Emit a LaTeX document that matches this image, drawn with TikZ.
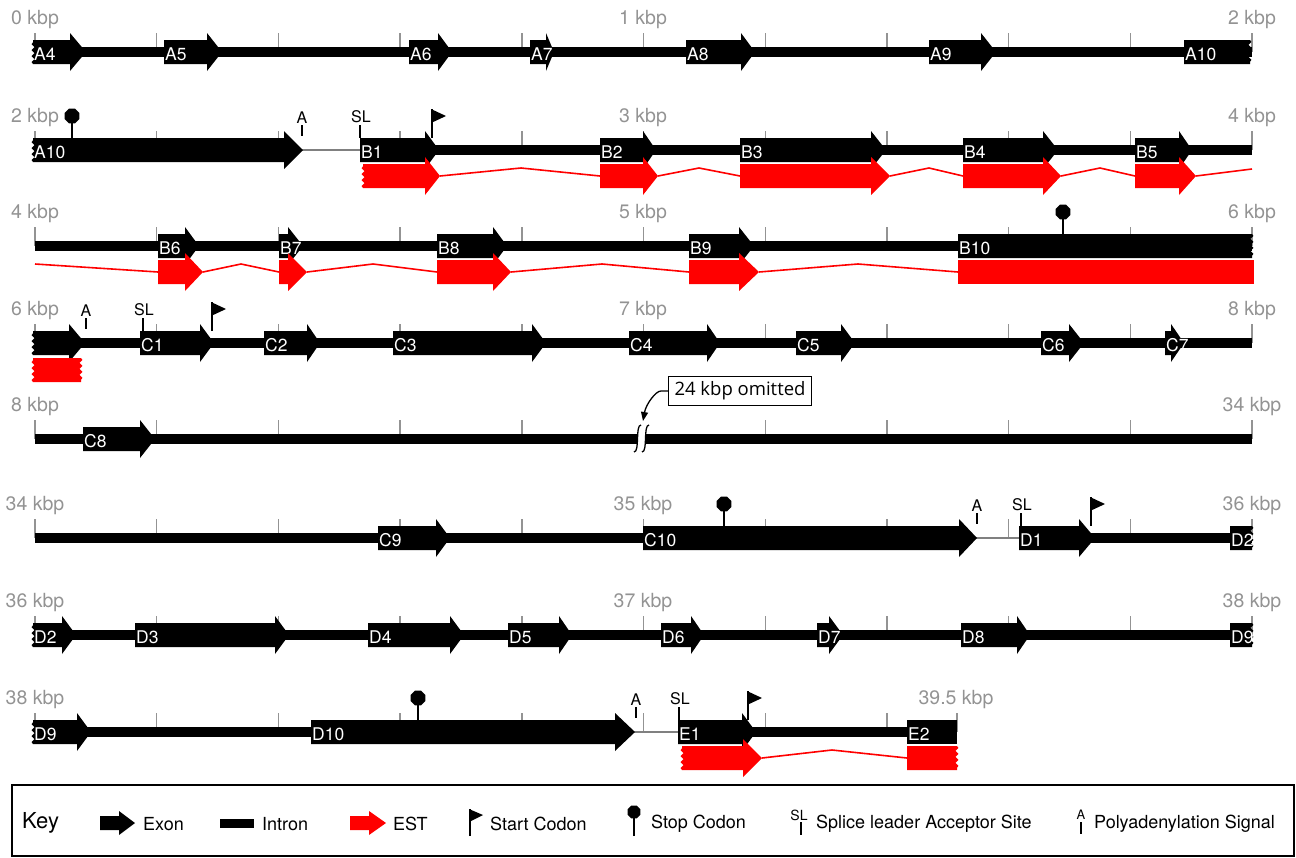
\documentclass[tikz,border=0pt]{standalone}
\usepackage{fontspec}
\setmainfont{TeX Gyre Heros}
\newfontfamily\notefont{Open Sans}
\usetikzlibrary{arrows.meta, positioning, shapes.geometric, decorations.pathmorphing}

\begin{document}
\begin{tikzpicture}[
  x=1pt, y=-1pt,
  tickmark/.style={draw=gray!85, line width=1.4pt},
  kbp/.style={text=gray!85, inner sep=0pt, font=\fontsize{19.5}{21}\selectfont},
  intron/.style={fill=black},
  utr/.style={draw=gray, line width=1.5pt},
  exon/.style={fill=black},
  est/.style={fill=red},
  estline/.style={draw=red, line width=1.6pt},
  exlabel/.style={text=white, anchor=west, inner sep=1pt,
                  font=\fontsize{17.5}{19}\selectfont},
  torn/.style={decoration={snake, segment length=6pt, amplitude=1.4pt}},
  stemline/.style={draw=black, line width=2.6pt},
  sitestem/.style={draw=black, line width=2pt},
  stopsign/.style={regular polygon, regular polygon sides=8, fill=black,
                   minimum size=16pt, inner sep=0pt},
  sitetext/.style={inner sep=0pt, font=\fontsize{16}{17}\selectfont},
  keytext/.style={anchor=west, inner sep=0pt, font=\fontsize{18}{20}\selectfont},
  omitbox/.style={draw, line width=1.3pt, inner xsep=6pt, inner ysep=5pt,
                  font=\notefont\fontsize{18.5}{20}\selectfont}
]
  \useasboundingbox (0,0) rectangle (1296,857);

  % scale ticks
  \foreach \ry in {52,150,246,343,538,635}
    \foreach \k in {0,...,10}
      \draw[tickmark] ({35+121.7*\k},{\ry-19}) -- ({35+121.7*\k},\ry);
  \foreach \k in {0,1,2,3,4,6,7,8,9,10}
    \draw[tickmark] ({35+121.7*\k},420) -- ({35+121.7*\k},439);
  \foreach \k in {0,...,7}
    \draw[tickmark] ({35+121.7*\k},713) -- ({35+121.7*\k},732);
  \draw[tickmark] (957,713) -- (957,732);

  % kbp labels
  \foreach \xa/\ry/\tx [count=\i] in {35/52/0, 643/52/1, 1252/52/2,
      35/150/2, 643/150/3, 1252/150/4, 35/246/4, 643/246/5, 1252/246/6,
      35/343/6, 643/343/7, 1252/343/8, 35/439/8, 1252/439/34,
      35/538/34, 643/538/35, 1252/538/36, 35/635/36, 643/635/37, 1252/635/38,
      35/732/38, 956/732/39.5}
    \node[kbp] (kbp\i) at (\xa,{\ry-32}) {\tx\ kbp};

  % introns
  \foreach \ry/\xa/\xb in {52/35/1252, 150/360/1252, 246/35/1252, 343/35/1252,
      439/35/1252, 538/35/960, 538/1019/1252, 635/35/1252, 732/35/620, 732/678/957}
    \fill[intron] (\xa,{\ry-5}) rectangle (\xb,{\ry+5});
  \foreach \ry/\xa/\xb in {150/300/360, 538/975/1019, 732/633/678}
    \draw[utr] (\xa,\ry) -- (\xb,\ry);

  % gap in row 5
  \fill[white] (634,452) .. controls (640,452) and (635,425) .. (641,425)
    -- (649,425) .. controls (643,425) and (648,452) .. (642,452) -- cycle;
  \draw[line width=1.3pt] (634,452) .. controls (640,452) and (635,425) .. (641,425);
  \draw[line width=1.3pt] (642,452) .. controls (648,452) and (643,425) .. (649,425);

  % exons
  \foreach \ry/\xa/\xb/\xc/\nm in {
      52/164/207/222/A5, 52/409/438/452/A6, 52/530/546/554/A7, 52/686/741/755/A8,
      52/929/981/996/A9,
      150/360/425/439/B1, 150/600/643/656/B2, 150/740/871/886/B3,
      150/963/1043/1058/B4, 150/1135/1179/1192/B5,
      246/158/185/199/B6, 246/279/288/303/B7, 246/437/493/507/B8, 246/689/739/754/B9,
      343/140/200/214/C1, 343/264/307/320/C2, 343/393/532/546/C3, 343/629/707/720/C4,
      343/796/841/855/C5, 343/1041/1069/1084/C6, 343/1165/1171/1184/C7,
      439/83/140/155/C8,
      538/378/436/450/C9, 538/643/959/977/C10, 538/1019/1079/1095/D1,
      635/135/275/289/D3, 635/368/450/464/D4, 635/508/559/572/D5, 635/661/691/704/D6,
      635/817/829/843/D7, 635/961/1017/1030/D8,
      732/311/615/635/D10, 732/678/742/756/E1}
  {
    \fill[exon] (\xa,{\ry-12}) -- (\xb,{\ry-12}) -- (\xb,{\ry-19}) -- (\xc,\ry)
      -- (\xb,{\ry+19}) -- (\xb,{\ry+12}) -- (\xa,{\ry+12}) -- cycle;
    \node[exlabel] (\nm) at (\xa,{\ry+2}) {\nm};
  }
  \foreach \ry/\xa/\xb/\xc/\nm/\tx in {52/33/70/86/A4/A4, 150/33/284/303/A10b/A10,
      343/33/69/85/C0/{}, 635/33/62/76/D2b/D2, 732/33/77/91/D9b/D9}
  {
    \fill[exon] (\xa,{\ry+12}) decorate[torn]{-- (\xa,{\ry-12})} -- (\xb,{\ry-12})
      -- (\xb,{\ry-19}) -- (\xc,\ry) -- (\xb,{\ry+19}) -- (\xb,{\ry+12}) -- cycle;
    \node[exlabel] (\nm) at (\xa,{\ry+2}) {\tx};
  }
  \foreach \ry/\xa/\xb/\nm/\tx in {52/1184/1250/A10a/A10, 246/958/1252/B10/B10,
      538/1230/1252/D2a/D2, 635/1230/1252/D9a/D9}
  {
    \fill[exon] (\xa,{\ry-12}) -- (\xb,{\ry-12}) decorate[torn]{-- (\xb,{\ry+12})}
      -- (\xa,{\ry+12}) -- cycle;
    \node[exlabel] (\nm) at (\xa,{\ry+2}) {\tx};
  }
  \fill[exon] (907,720) rectangle (957,744);
  \node[exlabel] (E2) at (907,734) {E2};

  % ESTs
  \foreach \ry/\xa/\xb/\xc in {176/600/643/658, 176/740/871/890, 176/963/1043/1061,
      176/1135/1179/1196, 272/158/185/203, 272/279/288/307, 272/437/493/511,
      272/689/739/759}
    \fill[est] (\xa,{\ry-12}) -- (\xb,{\ry-12}) -- (\xb,{\ry-19}) -- (\xc,\ry)
      -- (\xb,{\ry+19}) -- (\xb,{\ry+12}) -- (\xa,{\ry+12}) -- cycle;
  \foreach \ry/\xa/\xb/\xc in {176/363/425/440, 758/682/743/762}
    \fill[est] (\xa,{\ry+12}) decorate[torn]{-- (\xa,{\ry-12})} -- (\xb,{\ry-12})
      -- (\xb,{\ry-19}) -- (\xc,\ry) -- (\xb,{\ry+19}) -- (\xb,{\ry+12}) -- cycle;
  \fill[est] (958,260) rectangle (1254,284);
  \fill[est] (33,382) decorate[torn]{-- (33,358)} -- (81,358)
    decorate[torn]{-- (81,382)} -- cycle;
  \fill[est] (907,746) -- (957,746) decorate[torn]{-- (957,770)} -- (907,770) -- cycle;
  \foreach \ry/\xa/\xm/\xb in {176/440/521/600, 176/658/699/740, 176/890/929/963,
      176/1061/1100/1135, 272/203/241/279, 272/307/373/437, 272/511/602/689,
      272/759/858/958, 758/762/832/907}
    \draw[estline] (\xa,\ry) -- (\xm,{\ry-8}) -- (\xb,\ry);
  \draw[estline] (1196,176) -- (1252,169);
  \draw[estline] (35,264) -- (158,272);

  % stop codons
  \foreach \xa/\ry in {72/150, 1063/246, 724/538, 418/732} {
    \draw[stemline] (\xa,{\ry-12}) -- (\xa,{\ry-30});
    \node[stopsign] (stop\xa) at (\xa,{\ry-34}) {};
  }
  % start codons
  \foreach \xa/\ry in {432/150, 212/343, 1091/538, 748/732} {
    \draw[stemline] (\xa,{\ry-12}) -- (\xa,{\ry-41});
    \fill ({\xa-1},{\ry-41}) -- ({\xa+14},{\ry-34}) -- ({\xa-1},{\ry-27}) -- cycle;
  }
  % polyadenylation signals
  \foreach \xa/\ry in {302/150, 86/343, 977/538, 636/732} {
    \node[sitetext] (pa\xa) at (\xa,{\ry-32}) {A};
    \draw[sitestem] (\xa,{\ry-25}) -- (\xa,{\ry-14});
  }
  % splice leader sites
  \foreach \xa/\ry in {360/150, 143/343, 1021/538, 679/732} {
    \node[sitetext] (sl\xa) at ({\xa+1},{\ry-33}) {SL};
    \draw[sitestem] (\xa,{\ry-25}) -- (\xa,{\ry-12});
  }

  % omitted region
  \node[omitbox] (omitted) at (740,391) {24 kbp omitted};
  \coordinate (gap) at (643,421);
  \draw[line width=1.3pt, -{Triangle[length=9pt, width=7pt]}] (omitted.west) -- ++(-7,0)
    .. controls +(-5,0) and (646,404) .. (gap);

  % key
  \draw[line width=1.4pt] (12,785) rectangle (1294,856);
  \node[anchor=west, inner sep=0pt, font=\fontsize{22}{24}\selectfont] (key) at (22,823) {Key};
  \fill[exon] (100,816) -- (119,816) -- (119,811) -- (135,823) -- (119,835)
    -- (119,830) -- (100,830) -- cycle;
  \node[keytext] (keyexon) at (143,824) {Exon};
  \fill[intron] (220,819) rectangle (254,828);
  \node[keytext] (keyintron) at (262,824) {Intron};
  \fill[est] (350,816) -- (369,816) -- (369,811) -- (386,823) -- (369,835)
    -- (369,830) -- (350,830) -- cycle;
  \node[keytext] (keyest) at (393,824) {EST};
  \draw[line width=2.2pt] (470,836) -- (470,809);
  \fill (469,809) -- (483,815) -- (469,822) -- cycle;
  \node[keytext] (keystart) at (490,824) {Start Codon};
  \draw[line width=2.4pt] (634,836) -- (634,816);
  \node[stopsign, minimum size=14pt] (keystopsign) at (634,812) {};
  \node[keytext] (keystop) at (651,824) {Stop Codon};
  \node[sitetext, font=\fontsize{14}{15}\selectfont] (keyslsign) at (799,815) {SL};
  \draw[sitestem] (801,822) -- (801,835);
  \node[keytext] (keysl) at (816,824) {Splice leader Acceptor Site};
  \node[sitetext, font=\fontsize{13}{14}\selectfont] (keypasign) at (1081,815) {A};
  \draw[sitestem] (1081,822) -- (1081,834);
  \node[keytext] (keypa) at (1094,824) {Polyadenylation Signal};
\end{tikzpicture}
\end{document}
